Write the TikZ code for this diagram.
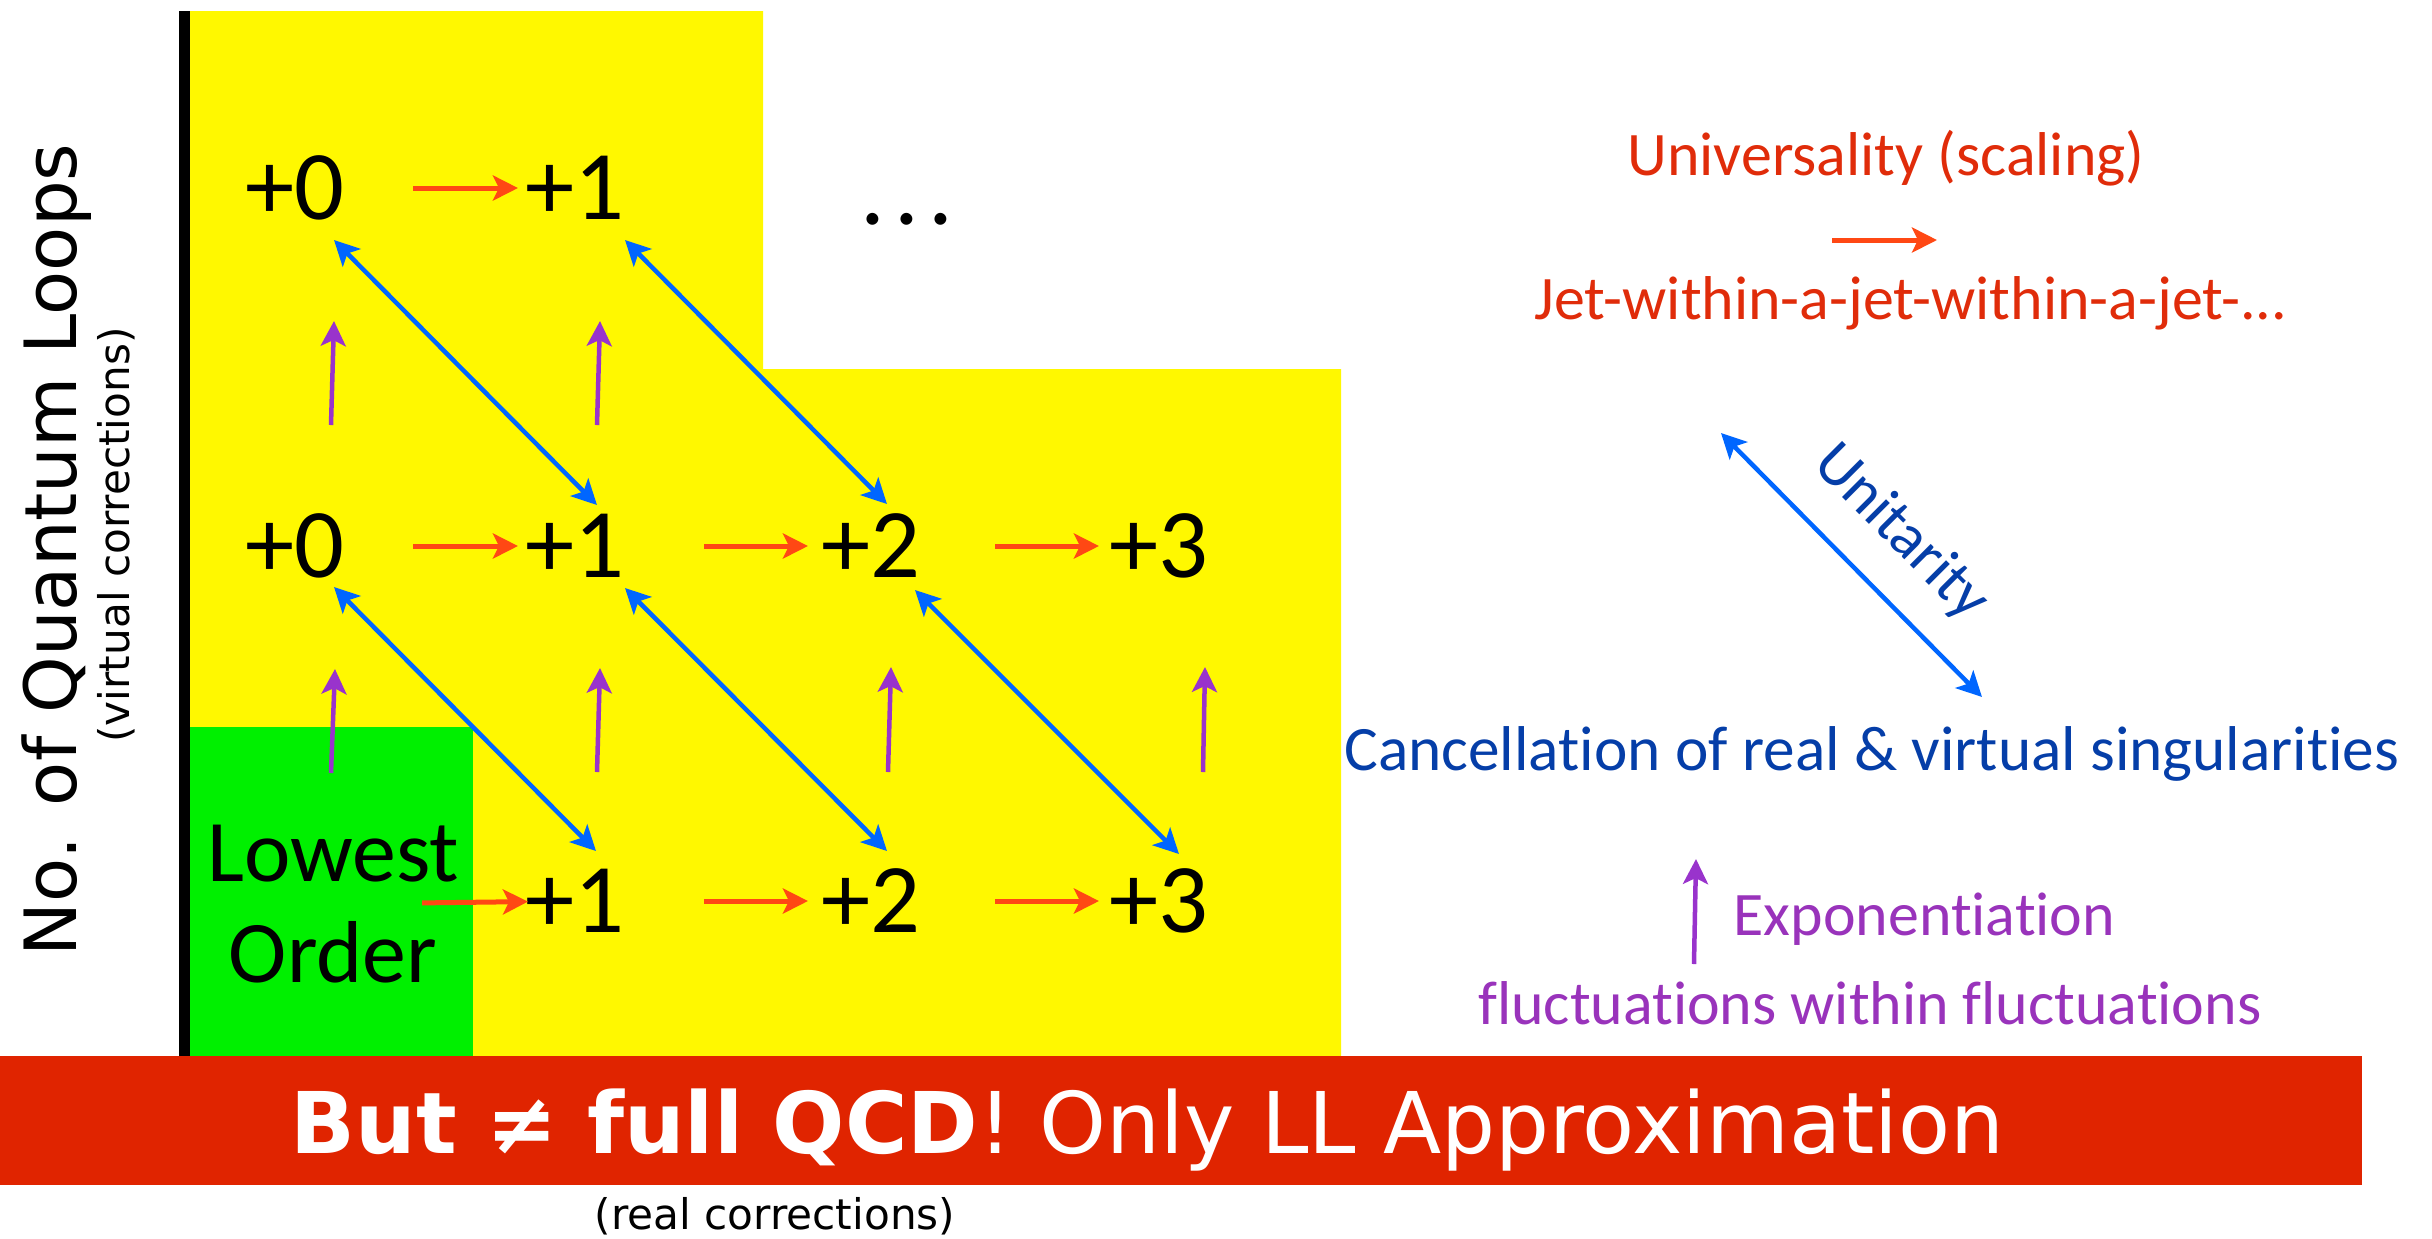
\documentclass[tikz,border=0pt]{standalone}
\usepackage{fontspec}
\setmainfont{Carlito}[Ligatures={NoCommon}]
\newfontfamily\dejavu{DejaVu Sans}
\usetikzlibrary{arrows.meta}
\definecolor{ylw}{RGB}{255,248,0}
\definecolor{grn}{RGB}{0,240,0}
\definecolor{band}{RGB}{224,36,0}
\definecolor{redarr}{RGB}{255,72,20}
\definecolor{bluarr}{RGB}{0,102,255}
\definecolor{purarr}{RGB}{153,51,204}
\definecolor{redtxt}{RGB}{224,44,10}
\definecolor{blutxt}{RGB}{5,62,168}
\definecolor{purtxt}{RGB}{153,51,187}
\tikzset{
  myhead/.tip={Stealth[length=0.25cm,width=0.25cm,inset=0.06cm]},
  num/.style={font=\fontsize{28}{30}\selectfont, inner sep=0pt, text=black},
  rtxt/.style={font=\fontsize{17.6}{20}\selectfont, inner sep=0pt, anchor=base},
  redline/.style={draw=redarr, line width=0.05cm, -{myhead}},
  bluline/.style={draw=bluarr, line width=0.045cm, {myhead}-{myhead}},
  purline/.style={draw=purarr, line width=0.045cm, -{myhead}}
}
\begin{document}
\begin{tikzpicture}[x=0.01cm,y=-0.01cm]
\useasboundingbox (0,0) rectangle (2432,1238);
% backgrounds
\fill[ylw] (190,11) -- (763,11) -- (763,369) -- (1341,369) -- (1341,1056) -- (190,1056) -- cycle;
\fill[grn] (190,727) rectangle (473,1056);
\fill[black] (179,11) rectangle (190,1056);

% grid nodes
\node[num] (r1c0) at (295,188) {+0};
\node[num] (r1c1) at (575,188) {+1};
\node[num, anchor=base] (dots) at (907,224) {.\kern0.09em.\kern0.09em.};
\node[num] (r2c0) at (295,546) {+0};
\node[num] (r2c1) at (575,546) {+1};
\node[num] (r2c2) at (871,546) {+2};
\node[num] (r2c3) at (1159,546) {+3};
\node[inner sep=0pt, align=center, font=\fontsize{25}{28.5}\selectfont] (lo) at (333,904) {Lowest\\Order};
\node[num] (r3c1) at (575,901) {+1};
\node[num] (r3c2) at (871,901) {+2};
\node[num] (r3c3) at (1159,901) {+3};

% red arrows (emissions)
\draw[redline, shorten <=1.18cm, shorten >=0.57cm] (r1c0.center) -- (r1c1.center);
\draw[redline, shorten <=1.18cm, shorten >=0.57cm] (r2c0.center) -- (r2c1.center);
\draw[redline, shorten <=1.29cm, shorten >=0.63cm] (r2c1.center) -- (r2c2.center);
\draw[redline, shorten <=1.24cm, shorten >=0.60cm] (r2c2.center) -- (r2c3.center);
\draw[redline, shorten <=0.89cm, shorten >=0.47cm] (lo.center) -- (r3c1.center);
\draw[redline, shorten <=1.29cm, shorten >=0.63cm] (r3c1.center) -- (r3c2.center);
\draw[redline, shorten <=1.24cm, shorten >=0.60cm] (r3c2.center) -- (r3c3.center);

% blue arrows (unitarity)
\draw[bluline] ([shift={(39,52)}]r1c0.center) -- ([shift={(22,-41)}]r2c1.center);
\draw[bluline] ([shift={(50,52)}]r1c1.center) -- ([shift={(16,-42)}]r2c2.center);
\draw[bluline] ([shift={(39,41)}]r2c0.center) -- ([shift={(21,-50)}]r3c1.center);
\draw[bluline] ([shift={(50,42)}]r2c1.center) -- ([shift={(16,-50)}]r3c2.center);
\draw[bluline] ([shift={(44,44)}]r2c2.center) -- ([shift={(20,-47)}]r3c3.center);

% purple arrows (virtual)
\draw[purline] ([shift={(36,-121)}]r2c0.center) -- ([shift={(39,133)}]r1c0.center);
\draw[purline] ([shift={(22,-121)}]r2c1.center) -- ([shift={(25,133)}]r1c1.center);
\draw[purline] ([shift={(-2,-131)}]lo.center) -- ([shift={(40,123)}]r2c0.center);
\draw[purline] ([shift={(22,-129)}]r3c1.center) -- ([shift={(25,122)}]r2c1.center);
\draw[purline] ([shift={(17,-129)}]r3c2.center) -- ([shift={(20,121)}]r2c2.center);
\draw[purline] ([shift={(44,-129)}]r3c3.center) -- ([shift={(46,121)}]r2c3.center);

% axis labels
\node[rotate=90, anchor=base, inner sep=0pt, font=\dejavu\fontsize{20.5}{24}\selectfont] (ylab) at (77,550) {No. of Quantum Loops};
\node[rotate=90, anchor=base, inner sep=0pt, font=\dejavu\fontsize{12}{14}\selectfont] (ysub) at (129,535) {(virtual corrections)};
\node[anchor=base, inner sep=0pt, font=\dejavu\fontsize{12}{14}\selectfont] (xsub) at (775,1229) {(real corrections)};

% legend on the right
\node[rtxt, text=redtxt] (univ) at (1886,175) {Universality (scaling)};
\coordinate (ra1) at (1832,240);
\coordinate (ra2) at (1937,240);
\draw[redline] (ra1) -- (ra2);
\node[rtxt, text=redtxt] (jet) at (1911,319) {Jet-within-a-jet-within-a-jet-...};
\coordinate (ba1) at (1721,433);
\coordinate (ba2) at (1982,697);
\draw[bluline] (ba1) -- (ba2);
\node[font=\fontsize{17.6}{20}\selectfont, inner sep=0pt, text=blutxt, rotate=-45] (unit) at (1901,533) {Unitarity};
\node[rtxt, text=blutxt, font=\fontsize{18}{20}\selectfont] (canc) at (1872,770) {Cancellation of real \& virtual singularities};
\coordinate (pa1) at (1694,964);
\coordinate (pa2) at (1696,859);
\draw[purline] (pa1) -- (pa2);
\node[rtxt, text=purtxt, anchor=base west] (expo) at (1733,935) {Exponentiation};
\node[rtxt, text=purtxt] (fluc) at (1870,1024) {fluctuations within fluctuations};

% red band
\fill[band] (0,1056) rectangle (2362,1185);
\node[anchor=base west, inner sep=0pt, text=white, font=\dejavu\fontsize{24.2}{28}\selectfont] (bandtxt) at (290,1153) {\textbf{But ≠ full QCD}! Only LL Approximation};
\end{tikzpicture}
\end{document}
